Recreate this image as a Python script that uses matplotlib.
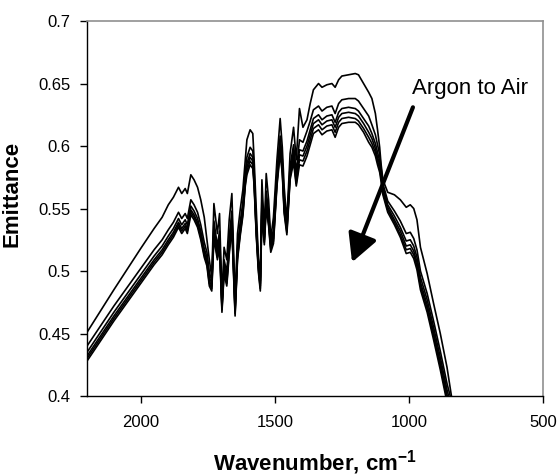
import matplotlib
matplotlib.use("Agg")
import matplotlib.pyplot as plt

plt.rcParams['font.family'] = ['Liberation Sans', 'DejaVu Sans']
plt.rcParams['mathtext.fontset'] = 'custom'
plt.rcParams['mathtext.rm'] = 'Liberation Sans'
plt.rcParams['mathtext.bf'] = 'Liberation Sans:bold'

# wavenumber grid, cm-1
wavenumber = [2200, 2100, 2000, 1950, 1920, 1897, 1878, 1859, 1847, 1834,
              1826, 1813, 1801, 1788, 1776, 1763, 1753, 1744, 1735, 1727,
              1714, 1706, 1697, 1689, 1679, 1670, 1660, 1648, 1639, 1629,
              1619, 1610, 1604, 1592, 1582, 1577, 1569, 1561, 1554, 1548,
              1539, 1532, 1523, 1515, 1505, 1492, 1480, 1472, 1465, 1455,
              1443, 1430, 1420, 1408, 1395, 1380, 1368, 1356, 1337, 1324,
              1306, 1287, 1275, 1262, 1250, 1225, 1200, 1188, 1169, 1150,
              1138, 1125, 1117, 1109, 1104, 1097, 1079, 1054, 1032, 1010,
              995, 982, 970, 957, 932, 908, 883, 858, 840]

# emittance spectra, argon first, then towards air
spec1 = [0.451, 0.485, 0.518, 0.534, 0.543, 0.553, 0.559, 0.567, 0.562, 0.566,
         0.562, 0.577, 0.573, 0.567, 0.557, 0.543, 0.525, 0.509, 0.495, 0.554,
         0.530, 0.546, 0.478, 0.519, 0.509, 0.541, 0.562, 0.475, 0.530, 0.549,
         0.565, 0.589, 0.605, 0.613, 0.610, 0.589, 0.549, 0.510, 0.495, 0.573,
         0.532, 0.578, 0.557, 0.526, 0.543, 0.589, 0.622, 0.599, 0.567, 0.540,
         0.594, 0.615, 0.589, 0.630, 0.615, 0.621, 0.634, 0.645, 0.650, 0.647,
         0.649, 0.650, 0.647, 0.653, 0.656, 0.657, 0.658, 0.657, 0.650, 0.643,
         0.638, 0.626, 0.613, 0.599, 0.586, 0.573, 0.563, 0.561, 0.557, 0.551,
         0.553, 0.550, 0.541, 0.519, 0.498, 0.474, 0.450, 0.423, 0.398]
spec2 = [0.440, 0.472, 0.502, 0.517, 0.525,
         0.533, 0.539, 0.547, 0.542, 0.546, 0.542, 0.557, 0.553, 0.547, 0.537, 0.523,
         0.515, 0.499, 0.492, 0.540, 0.520, 0.532, 0.475, 0.509, 0.499, 0.527,
         0.548, 0.472, 0.520, 0.539, 0.555, 0.579, 0.591, 0.599, 0.596, 0.579,
         0.539, 0.507, 0.492, 0.559, 0.529, 0.564, 0.547, 0.523, 0.533, 0.579,
         0.608, 0.589, 0.557, 0.537, 0.584, 0.601, 0.579,
         0.605, 0.603, 0.612, 0.620, 0.629, 0.632, 0.628, 0.631, 0.632, 0.626,
         0.634, 0.637, 0.638, 0.638, 0.636, 0.630, 0.624,
         0.617, 0.609, 0.601, 0.593, 0.583, 0.570,
         0.556, 0.548, 0.540, 0.530, 0.531, 0.526, 0.517, 0.500, 0.482, 0.460,
         0.436, 0.410, 0.395]
spec3 = [0.435, 0.467, 0.497, 0.512, 0.520,
         0.528, 0.534, 0.542, 0.537, 0.541, 0.537, 0.552, 0.548, 0.542, 0.532, 0.518,
         0.511, 0.495, 0.490, 0.535, 0.516, 0.527, 0.473, 0.505, 0.495, 0.522,
         0.543, 0.470, 0.516, 0.535, 0.551, 0.575, 0.586, 0.594, 0.591, 0.575,
         0.535, 0.505, 0.490, 0.554, 0.527, 0.559, 0.543, 0.521, 0.529, 0.575,
         0.603, 0.585, 0.553, 0.535, 0.580, 0.596, 0.575,
         0.597, 0.596, 0.604, 0.613, 0.622, 0.625, 0.621, 0.624, 0.625, 0.619,
         0.627, 0.630, 0.631, 0.630, 0.628, 0.622, 0.616,
         0.610, 0.602, 0.595, 0.588, 0.580, 0.567,
         0.553, 0.544, 0.535, 0.524, 0.525, 0.520, 0.511, 0.495, 0.477, 0.455,
         0.431, 0.405, 0.390]
spec4 = [0.432, 0.464, 0.494, 0.509, 0.517,
         0.525, 0.531, 0.539, 0.534, 0.538, 0.534, 0.549, 0.545, 0.539, 0.529, 0.515,
         0.508, 0.492, 0.488, 0.532, 0.513, 0.524, 0.471, 0.502, 0.492, 0.519,
         0.540, 0.468, 0.513, 0.532, 0.548, 0.572, 0.583, 0.591, 0.588, 0.572,
         0.532, 0.503, 0.488, 0.551, 0.525, 0.556, 0.540, 0.519, 0.526, 0.572,
         0.600, 0.582, 0.550, 0.533, 0.577, 0.593, 0.572,
         0.593, 0.592, 0.600, 0.609, 0.618, 0.621, 0.617, 0.620, 0.621, 0.615,
         0.623, 0.626, 0.627, 0.626, 0.624, 0.618, 0.611,
         0.606, 0.598, 0.591, 0.585, 0.577, 0.565,
         0.551, 0.541, 0.532, 0.520, 0.521, 0.516, 0.507, 0.491, 0.473, 0.451,
         0.427, 0.401, 0.386]
spec5 = [0.430, 0.462, 0.492, 0.507, 0.515,
         0.523, 0.529, 0.537, 0.532, 0.536, 0.532, 0.547, 0.543, 0.537, 0.527, 0.513,
         0.506, 0.490, 0.486, 0.529, 0.511, 0.521, 0.469, 0.500, 0.490, 0.516,
         0.537, 0.466, 0.511, 0.530, 0.546, 0.570, 0.580, 0.588, 0.585, 0.570,
         0.530, 0.501, 0.486, 0.548, 0.523, 0.553, 0.538, 0.517, 0.524, 0.570,
         0.597, 0.580, 0.548, 0.531, 0.575, 0.590, 0.570,
         0.589, 0.588, 0.596, 0.605, 0.614, 0.617, 0.613, 0.616, 0.617, 0.611,
         0.619, 0.622, 0.623, 0.622, 0.620, 0.614, 0.607,
         0.602, 0.595, 0.588, 0.582, 0.575, 0.563,
         0.549, 0.539, 0.529, 0.517, 0.518, 0.513, 0.504, 0.488, 0.470, 0.448,
         0.424, 0.398, 0.383]
spec6 = [0.428, 0.460, 0.490, 0.505, 0.513,
         0.521, 0.527, 0.535, 0.530, 0.534, 0.530, 0.545, 0.541, 0.535, 0.525, 0.511,
         0.504, 0.488, 0.484, 0.526, 0.509, 0.518, 0.467, 0.498, 0.488, 0.513,
         0.534, 0.464, 0.509, 0.528, 0.544, 0.568, 0.577, 0.585, 0.582, 0.568,
         0.528, 0.499, 0.484, 0.545, 0.521, 0.550, 0.536, 0.515, 0.522, 0.568,
         0.594, 0.578, 0.546, 0.529, 0.573, 0.587, 0.568,
         0.585, 0.584, 0.592, 0.601, 0.610, 0.613, 0.609, 0.612, 0.613, 0.607,
         0.615, 0.618, 0.619, 0.619, 0.617, 0.611, 0.603,
         0.599, 0.592, 0.585, 0.579, 0.572, 0.561,
         0.547, 0.537, 0.527, 0.514, 0.515, 0.510, 0.501, 0.485, 0.467, 0.445,
         0.421, 0.395, 0.380]
spectra = [spec1, spec2, spec3, spec4, spec5, spec6]

xticks = [2000, 1500, 1000, 500]
yticks = [0.4, 0.45, 0.5, 0.55, 0.6, 0.65, 0.7]
ytick_labels = ['0.4', '0.45', '0.5', '0.55', '0.6', '0.65', '0.7']

fig = plt.figure(figsize=(5.6, 4.76), dpi=100)
ax = fig.add_axes([0.1554, 0.168, 0.8143, 0.7878])

for s in spectra:
    ax.plot(wavenumber, s, color='black', lw=1.2)

ax.set_xlim(2200, 500)
ax.set_ylim(0.4, 0.7)
ax.set_xticks(xticks)
ax.set_xticklabels([str(t) for t in xticks])
ax.set_yticks(yticks)
ax.set_yticklabels(ytick_labels)
ax.tick_params(direction='out', length=5, width=1, labelsize=12, color='black')
ax.tick_params(axis='x', pad=9)
ax.tick_params(axis='y', pad=7)

for side in ['left', 'bottom']:
    ax.spines[side].set_color('black')
    ax.spines[side].set_linewidth(1.0)
for side in ['top', 'right']:
    ax.spines[side].set_color('#909090')
    ax.spines[side].set_linewidth(1.2)

ax.set_ylabel('Emittance', fontsize=16, fontweight='bold')
ax.yaxis.set_label_coords(-0.142, 0.54)
ax.set_xlabel(r'Wavenumber, cm$^{\mathbf{-1}}$', fontsize=16, fontweight='bold')
ax.xaxis.set_label_coords(0.5, -0.14)

ax.annotate('', xy=(1212, 0.507), xytext=(985, 0.631),
            arrowprops=dict(arrowstyle='-|>,head_length=0.85,head_width=0.45',
                            lw=3, color='black', mutation_scale=20,
                            shrinkA=0, shrinkB=0))
ax.text(771, 0.646, 'Argon to Air', ha='center', va='center', fontsize=16)

fig.savefig('out.png', dpi=100)
